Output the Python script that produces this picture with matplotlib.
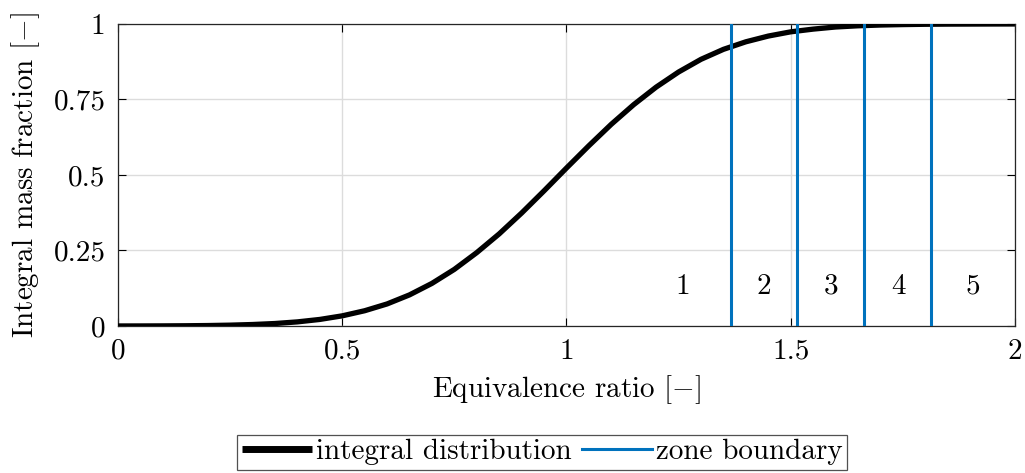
import numpy as np
import matplotlib
matplotlib.use('Agg')
import matplotlib.pyplot as plt

plt.rcParams['font.family'] = 'cmr10'
plt.rcParams['mathtext.fontset'] = 'cm'
plt.rcParams['axes.formatter.use_mathtext'] = True

# integral mass fraction vs. equivalence ratio
phi = [0.00, 0.05, 0.10, 0.15, 0.20, 0.25, 0.30, 0.35, 0.40, 0.45,
       0.50, 0.55, 0.60, 0.65, 0.70, 0.75, 0.80, 0.85, 0.90, 0.95,
       1.00, 1.05, 1.10, 1.15, 1.20, 1.25, 1.30, 1.35, 1.40, 1.45,
       1.50, 1.55, 1.60, 1.65, 1.70, 1.75, 1.80, 1.85, 1.90, 1.95, 2.00]
mass_frac = [0.0001, 0.0002, 0.0004, 0.0008, 0.0015, 0.0028, 0.0049, 0.0082, 0.0136, 0.0217,
             0.0336, 0.0505, 0.073, 0.103, 0.141, 0.1875, 0.243, 0.305, 0.374, 0.4475,
             0.523, 0.597, 0.668, 0.733, 0.791, 0.841, 0.883, 0.916, 0.941, 0.960,
             0.974, 0.983, 0.990, 0.994, 0.9965, 0.998, 0.999, 0.9995, 0.9997, 0.9999, 1.0]

zone_bounds = [1.366, 1.515, 1.664, 1.813]
zone_names = ['1', '2', '3', '4', '5']
zone_label_x = [1.26, 1.44, 1.59, 1.74, 1.907]

xticks = [0, 0.5, 1, 1.5, 2]
xticklabels = ['0', '0.5', '1', '1.5', '2']
yticks = [0, 0.25, 0.5, 0.75, 1]
yticklabels = ['0', '0.25', '0.5', '0.75', '1']

blue = '#0072BD'
fs = 21

fig = plt.figure(figsize=(10.25, 4.73), dpi=100)
ax = fig.add_axes([0.1151, 0.3108, 0.8751, 0.6385])

h1, = ax.plot(phi, mass_frac, color='k', lw=3.8, label='integral distribution',
              zorder=3, solid_joinstyle='round', solid_capstyle='butt')
for i, xb in enumerate(zone_bounds):
    h = ax.axvline(xb, color=blue, lw=2.2, zorder=4)
    if i == 0:
        h2 = h
for xl, name in zip(zone_label_x, zone_names):
    ax.text(xl, 0.13, name, ha='center', va='center', fontsize=fs)

ax.set_xlim(0, 2)
ax.set_ylim(0, 1)
ax.set_xticks(xticks)
ax.set_xticklabels(xticklabels)
ax.set_yticks(yticks)
ax.set_yticklabels(yticklabels)
ax.tick_params(direction='in', top=True, right=True, labelsize=fs, length=6, width=0.8, pad=9)
ax.grid(True, color='#dcdcdc', lw=1.0)
ax.set_axisbelow(True)
for s in ax.spines.values():
    s.set_linewidth(0.9)
    s.set_color('#262626')

ax.set_xlabel(r'Equivalence ratio $[-]$', fontsize=fs, labelpad=6)
ax.set_ylabel(r'Integral mass fraction $[-]$', fontsize=fs, labelpad=8)

leg = fig.legend([h1, h2], ['integral distribution', 'zone boundary'],
                 loc='center', bbox_to_anchor=(0.529, 0.044), ncol=2,
                 fontsize=fs, frameon=True, fancybox=False, edgecolor='#262626',
                 handlelength=2.4, handletextpad=0.15, columnspacing=0.35,
                 borderpad=0.15, borderaxespad=0)
leg.get_frame().set_linewidth(0.9)
leg.get_lines()[0].set_linewidth(5)

fig.savefig('out.png', dpi=100)
